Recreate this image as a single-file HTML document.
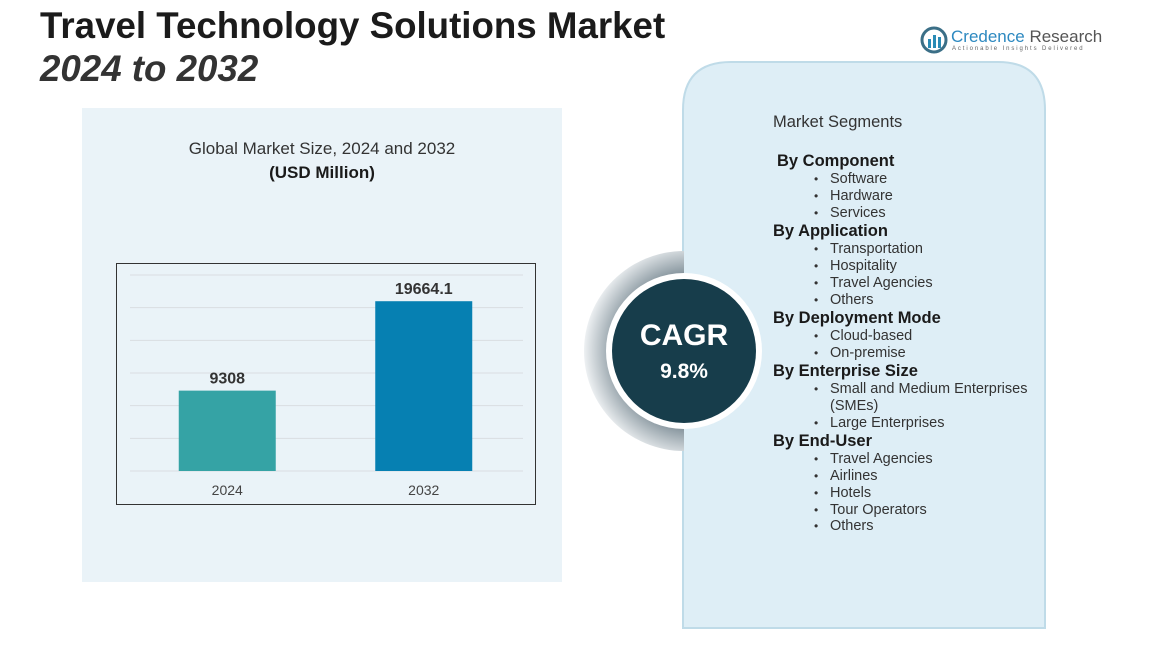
<!DOCTYPE html>
<html><head><meta charset="utf-8"><style>
body{margin:0;width:1166px;height:645px;background:#fff;position:relative;overflow:hidden;font-family:"Liberation Sans",sans-serif;color:#222}
.abs{position:absolute}
.t{position:absolute;white-space:nowrap;font-size:14.5px;color:#333}
.h{position:absolute;white-space:nowrap;font-size:16.5px;font-weight:bold;color:#1a1a1a}
.b{position:absolute;white-space:nowrap;font-size:14.5px;color:#333}
.b::before{content:"•";position:absolute;left:-16px;font-size:12px;top:1px}
</style></head><body>
<div class="abs" style="left:40px;top:4px;font-size:36.7px;font-weight:bold;color:#1b1b1b;line-height:43px">Travel Technology Solutions Market<br><i style="color:#333">2024 to 2032</i></div>
<div class="abs" style="left:920px;top:26px">
<svg width="28" height="28" viewBox="0 0 28 28"><circle cx="14" cy="14" r="12" fill="none" stroke="#3b6f87" stroke-width="3"/><rect x="8" y="13" width="3" height="9" fill="#2a8bb5"/><rect x="13" y="9" width="3" height="13" fill="#2a8bb5"/><rect x="18" y="11" width="3" height="11" fill="#2a8bb5"/></svg>
<span class="abs" style="left:31px;top:1px;font-size:17px;color:#2d89c0;white-space:nowrap">Credence <span style="color:#555">Research</span></span>
<span class="abs" style="left:32px;top:20px;font-size:6px;letter-spacing:1.9px;color:#666;white-space:nowrap">Actionable Insights Delivered</span>
</div>
<div class="abs" style="left:82px;top:108px;width:480px;height:474px;background:#eaf3f8"></div>
<div class="abs" style="left:82px;top:139px;width:480px;text-align:center;font-size:17px;color:#333">Global Market Size, 2024 and 2032<br><b style="line-height:27px;color:#1a1a1a">(USD Million)</b></div>
<svg class="abs" style="left:0;top:0" width="1166" height="645" id="chart">
<rect x="116.5" y="263.5" width="419" height="241" fill="none" stroke="#333" stroke-width="1"/>
</svg>
<svg class="abs" style="left:0;top:0" width="1166" height="645">
<path d="M683 628 V110 Q683 62 731 62 H998 Q1045 62 1045 110 V628 Z" fill="#deeef6" stroke="#bfdbe8" stroke-width="2"/>
<defs><radialGradient id="g" cx="0.55" cy="0.5" r="0.55"><stop offset="0.6" stop-color="#5f727d"/><stop offset="1" stop-color="#eef1f3"/></radialGradient></defs>
<circle cx="684" cy="351" r="100" fill="url(#g)"/>
<path d="M684 240 V470 H790 V240 Z" fill="#deeef6"/>
<circle cx="684" cy="351" r="78" fill="#fff"/>
<circle cx="684" cy="351" r="72" fill="#173d4b"/>
<text x="684" y="345" text-anchor="middle" font-family="Liberation Sans" font-weight="bold" font-size="30" fill="#fff">CAGR</text>
<text x="684" y="378" text-anchor="middle" font-family="Liberation Sans" font-weight="bold" font-size="21" fill="#fff">9.8%</text>
</svg>
<div class="t" style="left:773px;top:113px;font-size:16.5px">Market Segments</div>
<div class="h" style="left:777px;top:152px">By Component</div>
<div class="b" style="left:830px;top:171px">Software</div>
<div class="b" style="left:830px;top:188px">Hardware</div>
<div class="b" style="left:830px;top:205px">Services</div>
<div class="h" style="left:773px;top:222px">By Application</div>
<div class="b" style="left:830px;top:241px">Transportation</div>
<div class="b" style="left:830px;top:258px">Hospitality</div>
<div class="b" style="left:830px;top:275px">Travel Agencies</div>
<div class="b" style="left:830px;top:292px">Others</div>
<div class="h" style="left:773px;top:309px">By Deployment Mode</div>
<div class="b" style="left:830px;top:328px">Cloud-based</div>
<div class="b" style="left:830px;top:345px">On-premise</div>
<div class="h" style="left:773px;top:362px">By Enterprise Size</div>
<div class="b" style="left:830px;top:381px">Small and Medium Enterprises</div>
<div class="t" style="left:830px;top:398px">(SMEs)</div>
<div class="b" style="left:830px;top:415px">Large Enterprises</div>
<div class="h" style="left:773px;top:432px">By End-User</div>
<div class="b" style="left:830px;top:451px">Travel Agencies</div>
<div class="b" style="left:830px;top:468px">Airlines</div>
<div class="b" style="left:830px;top:485px">Hotels</div>
<div class="b" style="left:830px;top:502px">Tour Operators</div>
<div class="b" style="left:830px;top:518px">Others</div>
<script>
const categories = ["2024","2032"];
const values = [9308, 19664.1];
const valueLabels = ["9308","19664.1"];
const colors = ["#35a3a5","#0680b2"];
const gridCount = 6;
const yMax = 22700;
const baseY = 471, plotH = 196, x0 = 130, x1 = 523;
const ns = "http://www.w3.org/2000/svg";
const svg = document.getElementById("chart");
function y(v){return baseY - v/yMax*plotH;}
function xc(i){return x0 + (x1-x0)*(i+0.5)/categories.length - 1;}
for(let k=0;k<=gridCount;k++){
  const l=document.createElementNS(ns,"line");
  const yy=y(yMax*k/gridCount);
  l.setAttribute("x1",x0);l.setAttribute("x2",x1);l.setAttribute("y1",yy);l.setAttribute("y2",yy);
  l.setAttribute("stroke","#d9dee2");l.setAttribute("stroke-width","1");
  
  
  svg.appendChild(l);
}
categories.forEach((c,i)=>{
  const w=97, cx=xc(i);
  const r=document.createElementNS(ns,"rect");
  r.setAttribute("x",cx-w/2);r.setAttribute("width",w);
  r.setAttribute("y",y(values[i]));r.setAttribute("height",baseY-y(values[i]));
  r.setAttribute("fill",colors[i]);
  
  
  svg.appendChild(r);
  const t=document.createElementNS(ns,"text");
  t.setAttribute("x",cx);t.setAttribute("y",y(values[i])-7);t.setAttribute("text-anchor","middle");
  t.setAttribute("font-family","Liberation Sans");t.setAttribute("font-weight","bold");t.setAttribute("font-size","16");t.setAttribute("fill","#333");
  t.textContent=valueLabels[i];
  
  
  svg.appendChild(t);
  const a=document.createElementNS(ns,"text");
  a.setAttribute("x",cx);a.setAttribute("y",495);a.setAttribute("text-anchor","middle");
  a.setAttribute("font-family","Liberation Sans");a.setAttribute("font-size","14");a.setAttribute("fill","#444");
  a.textContent=c;
  
  
  svg.appendChild(a);
});
</script>
</body></html>
